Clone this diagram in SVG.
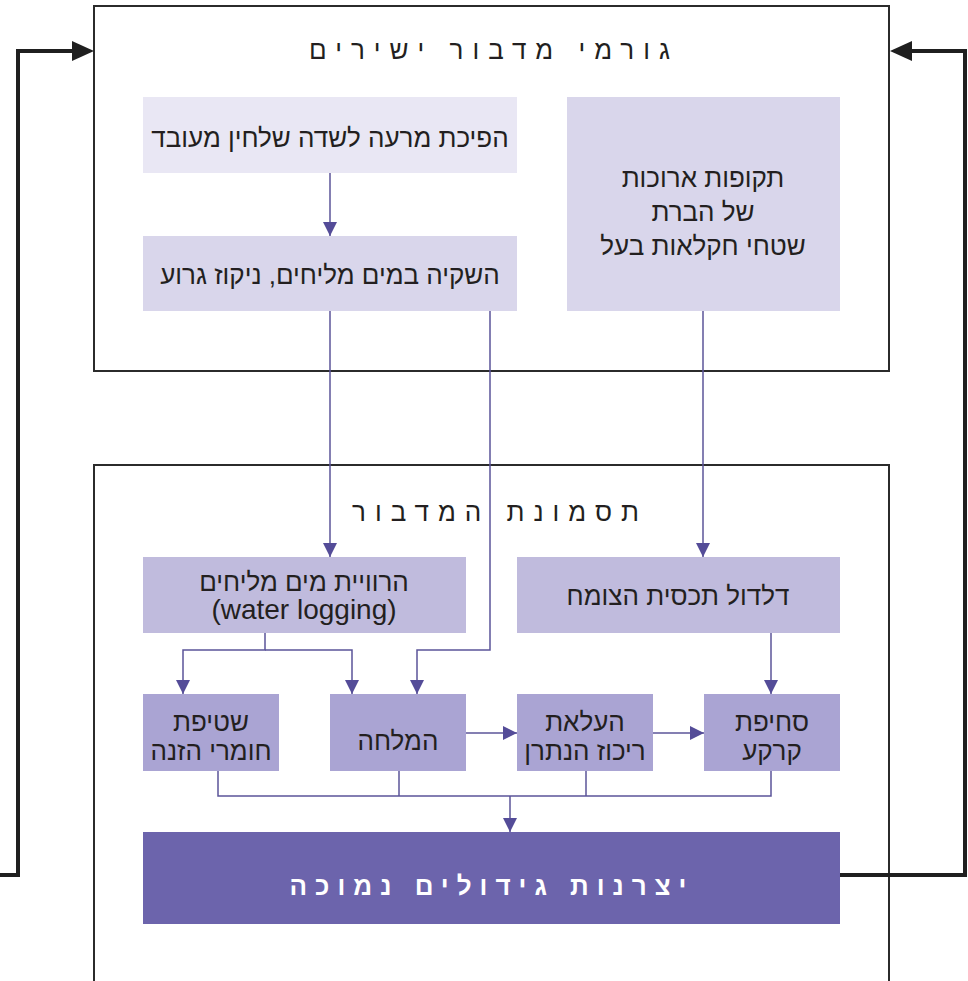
<svg xmlns="http://www.w3.org/2000/svg" width="968" height="981" viewBox="0 0 968 981">
<defs>
<style>
.frame{fill:none;stroke:#2b2b2b;stroke-width:2}
.t{font-family:"Liberation Sans","DejaVu Sans",sans-serif;font-size:26px;fill:#231f20;text-anchor:middle;direction:rtl}
.lat{font-family:"Liberation Sans","DejaVu Sans",sans-serif;font-size:28px;fill:#231f20;text-anchor:middle}
.ttl{font-family:"Liberation Sans","DejaVu Sans",sans-serif;font-size:26px;fill:#231f20;text-anchor:middle;direction:rtl;letter-spacing:9px;font-weight:300}
.wt{font-family:"Liberation Sans","DejaVu Sans",sans-serif;font-size:26px;fill:#ffffff;text-anchor:middle;direction:rtl;letter-spacing:8px;font-weight:bold}
.c{fill:none;stroke:#5b5499;stroke-width:1.5}
.fb{fill:none;stroke:#1f1f1f;stroke-width:4}
</style>
<marker id="ah2" viewBox="0 0 10 10" refX="10" refY="5" markerWidth="14" markerHeight="14" markerUnits="userSpaceOnUse" orient="auto"><path d="M0,0 L10,5 L0,10 z" fill="#544c98"/></marker>
</defs>
<rect width="968" height="981" fill="#ffffff"/>

<g id="frame-direct">
<rect class="frame" x="94" y="6" width="795" height="365"/>
<text class="ttl" x="494" y="59">גורמי מדבור ישירים</text>
</g>
<g id="frame-syndrome">
<path class="frame" d="M94,981 V465 H889 V981"/>
<text class="ttl" x="500" y="521">תסמונת המדבור</text>
</g>

<g id="connectors">
<line class="c" x1="330" y1="173" x2="330" y2="236" marker-end="url(#ah2)"/>
<line class="c" x1="330" y1="311" x2="330" y2="557" marker-end="url(#ah2)"/>
<polyline class="c" points="490,311 490,650 417,650 417,694" marker-end="url(#ah2)"/>
<line class="c" x1="703" y1="311" x2="703" y2="557" marker-end="url(#ah2)"/>
<polyline class="c" points="265,633 265,650 183,650 183,694" marker-end="url(#ah2)"/>
<polyline class="c" points="265,650 352,650 352,694" marker-end="url(#ah2)"/>
<line class="c" x1="771" y1="633" x2="771" y2="694" marker-end="url(#ah2)"/>
<line class="c" x1="466" y1="733" x2="517" y2="733" marker-end="url(#ah2)"/>
<line class="c" x1="653" y1="733" x2="704" y2="733" marker-end="url(#ah2)"/>
<polyline class="c" points="218,771 218,796 771,796 771,771"/>
<line class="c" x1="399" y1="771" x2="399" y2="796"/>
<line class="c" x1="586" y1="771" x2="586" y2="796"/>
<line class="c" x1="510" y1="796" x2="510" y2="832" marker-end="url(#ah2)"/>
<polyline class="fb" points="840,875 965,875 965,51 906,51"/>
<path d="M890,51 L912,41 L912,61 z" fill="#1f1f1f"/>
<polyline class="fb" points="0,875 18,875 18,51 76,51"/>
<path d="M94,51 L72,41 L72,61 z" fill="#1f1f1f"/>
</g>

<g id="node-pasture">
<rect x="143" y="97" width="374" height="76" fill="#e9e7f4"/>
<text class="t" x="330" y="147">הפיכת מרעה לשדה שלחין מעובד</text>
</g>
<g id="node-irrigation">
<rect x="143" y="236" width="374" height="75" fill="#d9d6eb"/>
<text class="t" x="330" y="284">השקיה במים מליחים, ניקוז גרוע</text>
</g>
<g id="node-fallow">
<rect x="567" y="97" width="273" height="214" fill="#d9d6eb"/>
<text class="t" x="703" y="187">תקופות ארוכות</text>
<text class="t" x="703" y="221">של הברת</text>
<text class="t" x="703" y="255">שטחי חקלאות בעל</text>
</g>
<g id="node-waterlogging">
<rect x="143" y="557" width="323" height="76" fill="#c0bbdd"/>
<text class="t" x="304" y="591">הרוויית מים מליחים</text>
<text class="lat" x="304" y="619">(water logging)</text>
</g>
<g id="node-vegetation">
<rect x="517" y="557" width="323" height="76" fill="#c0bbdd"/>
<text class="t" x="678" y="605">דלדול תכסית הצומח</text>
</g>
<g id="node-leaching">
<rect x="143" y="694" width="136" height="77" fill="#aaa4d3"/>
<text class="t" x="211" y="731">שטיפת</text>
<text class="t" x="211" y="760">חומרי הזנה</text>
</g>
<g id="node-salinization">
<rect x="330" y="694" width="136" height="77" fill="#aaa4d3"/>
<text class="t" x="398" y="750">המלחה</text>
</g>
<g id="node-sodium">
<rect x="517" y="694" width="136" height="77" fill="#aaa4d3"/>
<text class="t" x="585" y="731">העלאת</text>
<text class="t" x="585" y="760">ריכוז הנתרן</text>
</g>
<g id="node-erosion">
<rect x="704" y="694" width="136" height="77" fill="#aaa4d3"/>
<text class="t" x="772" y="731">סחיפת</text>
<text class="t" x="772" y="760">קרקע</text>
</g>
<g id="node-productivity">
<rect x="143" y="832" width="697" height="92" fill="#6c64ac"/>
<text class="wt" x="492" y="895">יצרנות גידולים נמוכה</text>
</g>
</svg>
